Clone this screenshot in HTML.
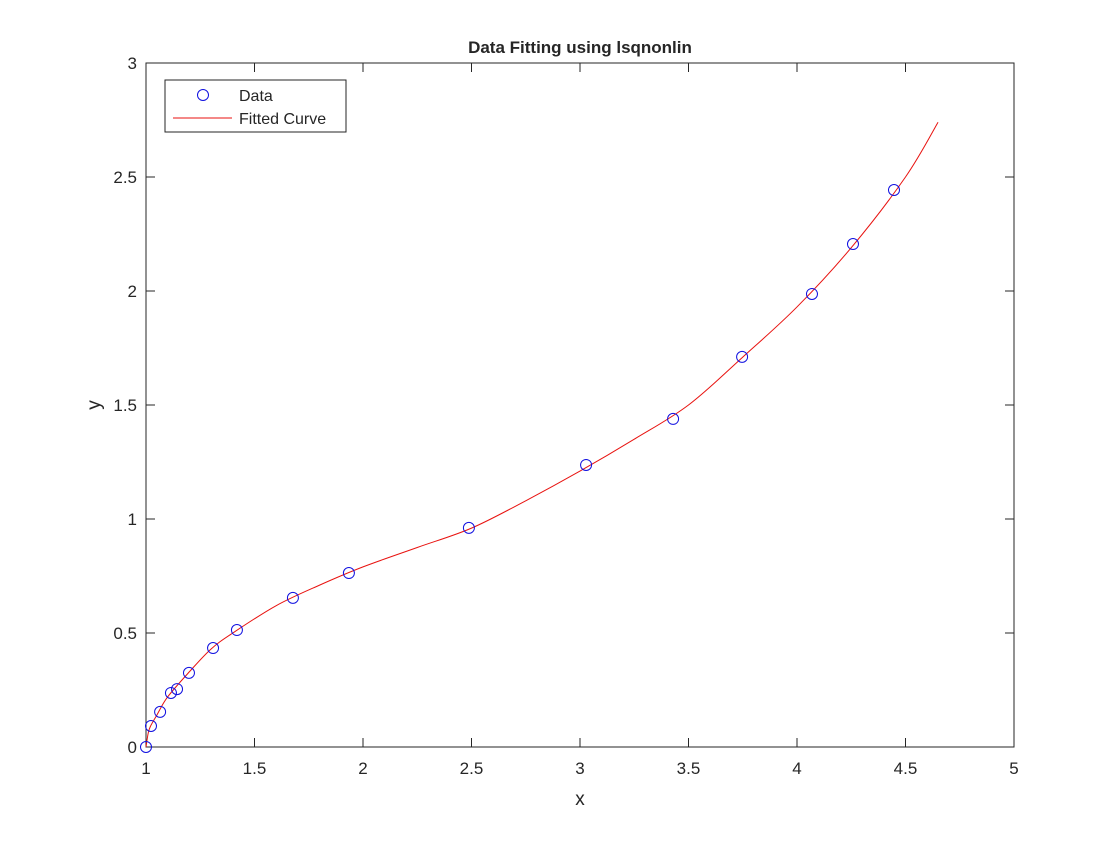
<!DOCTYPE html>
<html><head><meta charset="utf-8"><style>
html,body{margin:0;padding:0;background:#fff;}
svg text{font-family:"Liberation Sans",Arial,sans-serif;fill:#262626;}
</style></head><body>
<svg id="chart" width="1120" height="840" xmlns="http://www.w3.org/2000/svg">
<rect width="1120" height="840" fill="#fff"/>
<g id="plot"></g>
</svg>
<script>
const dataX=[1.0,1.023,1.065,1.115,1.143,1.198,1.309,1.419,1.677,1.935,2.488,3.028,3.429,3.747,4.069,4.258,4.447];
const dataY=[0.0,0.092,0.154,0.237,0.254,0.325,0.434,0.513,0.654,0.763,0.961,1.237,1.439,1.711,1.987,2.206,2.443];
const fitX=[1,1.01,1.02,1.05,1.1,1.2,1.3,1.4,1.6,1.8,2,2.25,2.5,2.75,3,3.25,3.5,3.75,4,4.25,4.5,4.65];
const fitY=[0,0.06,0.09,0.14,0.22,0.33,0.43,0.5,0.62,0.71,0.79,0.875,0.96,1.08,1.21,1.35,1.50,1.71,1.93,2.19,2.5,2.74];
const xTicks=[1,1.5,2,2.5,3,3.5,4,4.5,5];
const yTicks=[0,0.5,1,1.5,2,2.5,3];
const L=146,R=1014,T=63,B=747;
const sx=v=>L+(v-1)/4*(R-L);
const sy=v=>B-v/3*(B-T);
const NS="http://www.w3.org/2000/svg";
const g=document.getElementById('plot');
function mk(tag,attrs,parent){const e=document.createElementNS(NS,tag);for(const k in attrs)e.setAttribute(k,attrs[k]);(parent||g).appendChild(e);return e;}
let e;
e=mk('rect',{x:L,y:T,width:R-L,height:B-T,fill:'#fff',stroke:'#262626','stroke-width':1});


xTicks.forEach(v=>{
 const x=sx(v);
 e=mk('path',{d:`M${x},${B}v-9M${x},${T}v9`,stroke:'#262626','stroke-width':1});
 
 
 e=mk('text',{x:x,y:B+27,'text-anchor':'middle','font-size':17});e.textContent=String(v);
 
 
});
yTicks.forEach(v=>{
 const y=sy(v);
 e=mk('path',{d:`M${L},${y}h9M${R},${y}h-9`,stroke:'#262626','stroke-width':1});
 
 
 e=mk('text',{x:L-9,y:y+6,'text-anchor':'end','font-size':17});e.textContent=String(v);
 
 
});
e=mk('text',{x:(L+R)/2,y:53,'text-anchor':'middle','font-size':17,'font-weight':'bold'});e.textContent='Data Fitting using lsqnonlin';


e=mk('text',{x:(L+R)/2,y:805,'text-anchor':'middle','font-size':19});e.textContent='x';


e=mk('text',{x:100,y:(T+B)/2,'text-anchor':'middle','font-size':19,transform:`rotate(-90 100 ${(T+B)/2})`});e.textContent='y';


const P=fitX.map((v,i)=>[sx(v),sy(fitY[i])]);
let d=`M${P[0][0]},${P[0][1]}`;
for(let i=0;i<P.length-1;i++){
 const p0=P[Math.max(0,i-1)],p1=P[i],p2=P[i+1],p3=P[Math.min(P.length-1,i+2)];
 const c1=[p1[0]+(p2[0]-p0[0])/6,p1[1]+(p2[1]-p0[1])/6];
 const c2=[p2[0]-(p3[0]-p1[0])/6,p2[1]-(p3[1]-p1[1])/6];
 d+=`C${c1[0]},${c1[1]} ${c2[0]},${c2[1]} ${p2[0]},${p2[1]}`;
}
e=mk('path',{d:d,fill:'none',stroke:'#e8120f','stroke-width':1});


dataX.forEach((v,i)=>{
 e=mk('circle',{cx:sx(v),cy:sy(dataY[i]),r:5.5,fill:'none',stroke:'#1010e0','stroke-width':1});
 
 
});
const lg=mk('g',{});


e=mk('rect',{x:165,y:80,width:181,height:52,fill:'#fff',stroke:'#262626','stroke-width':1},lg);


e=mk('circle',{cx:203,cy:95,r:5.5,fill:'none',stroke:'#1010e0','stroke-width':1},lg);


e=mk('text',{x:239,y:101,'font-size':16},lg);e.textContent='Data';


e=mk('line',{x1:173,y1:118,x2:232,y2:118,stroke:'#e8120f','stroke-width':1},lg);


e=mk('text',{x:239,y:124,'font-size':16},lg);e.textContent='Fitted Curve';


</script>
</body></html>
